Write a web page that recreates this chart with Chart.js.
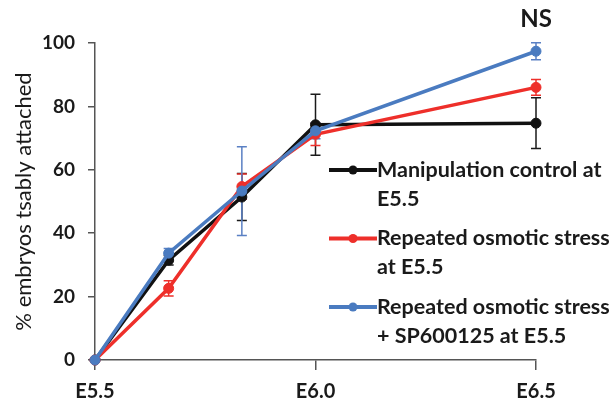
<!DOCTYPE html>
<html>
<head>
<meta charset="utf-8">
<script src="https://cdn.jsdelivr.net/npm/chart.js@4.4.1/dist/chart.umd.min.js"></script>
<style>
  html, body { margin: 0; padding: 0; background: #fff; }
  #wrap { width: 614px; height: 407px; }
</style>
</head>
<body>
<div id="wrap"><canvas id="attachChart" width="614" height="407"></canvas></div>
<script>
"use strict";

// sampling days (embryonic day)
const days = [5.5, 5.667, 5.833, 6.0, 6.5];
const xTickValues = [5.5, 6.0, 6.5];

// % embryos stably attached : mean and error bar
const controlVals = [0, 31.5, 51.4, 74.2, 74.7];
const controlErr  = [0, 1.5, 7.4, 9.6, 8.0];
const stressVals  = [0, 22.6, 54.7, 71.2, 86.0];
const stressErr   = [0, 2.4, 4.0, 3.5, 2.5];
const spVals      = [0, 33.7, 53.3, 72.3, 97.4];
const spErr       = [0, 1.5, 14.0, 2.5, 2.7];

const seriesNames = [
  ['Manipulation control at', 'E5.5'],
  ['Repeated osmotic stress', 'at E5.5'],
  ['Repeated osmotic stress', '+ SP600125 at E5.5']
];
const lineColors = ['#111111', '#ee2f2a', '#4a7bc0'];
const errColors  = ['#1a1a1a', '#ee2f2a', '#5a80c4'];
const errValues  = [controlErr, stressErr, spErr];

function toPoints(vals) {
  return vals.map((v, i) => ({ x: days[i], y: v }));
}

// error bars, drawn under the lines
const errorBars = {
  id: 'errorBars',
  beforeDatasetsDraw(chart) {
    const ctx = chart.ctx;
    const xs = chart.scales.x, ys = chart.scales.y;
    ctx.save();
    chart.data.datasets.forEach((ds, i) => {
      ctx.strokeStyle = errColors[i];
      ctx.lineWidth = 1.5;
      ds.data.forEach((p, j) => {
        const e = errValues[i][j];
        if (!e) return;
        const x = xs.getPixelForValue(p.x);
        const top = ys.getPixelForValue(p.y + e);
        const bot = ys.getPixelForValue(p.y - e);
        ctx.beginPath();
        ctx.moveTo(x, top); ctx.lineTo(x, bot);
        ctx.moveTo(x - 5, top); ctx.lineTo(x + 5, top);
        ctx.moveTo(x - 5, bot); ctx.lineTo(x + 5, bot);
        ctx.stroke();
      });
    });
    ctx.restore();
  }
};

// legend with two-line labels + "NS" note
const sideLegend = {
  id: 'sideLegend',
  afterDraw(chart) {
    const ctx = chart.ctx;
    const area = chart.chartArea;
    ctx.save();
    let y = 170;
    const x0 = area.right - 207;
    seriesNames.forEach((lines, i) => {
      ctx.strokeStyle = lineColors[i];
      ctx.lineWidth = 4;
      ctx.beginPath();
      ctx.moveTo(x0, y); ctx.lineTo(x0 + 48, y);
      ctx.stroke();
      ctx.fillStyle = lineColors[i];
      ctx.beginPath();
      ctx.arc(x0 + 24, y, 4.5, 0, Math.PI * 2);
      ctx.fill();
      ctx.fillStyle = '#1a1a1a';
      ctx.font = 'bold 21.5px Lato';
      ctx.textBaseline = 'middle';
      ctx.textAlign = 'left';
      lines.forEach((t, k) => ctx.fillText(t, x0 + 48, y + k * 29));
      y += 68.5;
    });
    ctx.font = 'bold 24px Lato';
    ctx.textAlign = 'center';
    ctx.fillText('NS', chart.scales.x.getPixelForValue(6.5), 19);
    ctx.restore();
  }
};

function makeSet(i, vals, order) {
  return {
    label: seriesNames[i].join(' '),
    data: toPoints(vals),
    borderColor: lineColors[i],
    backgroundColor: lineColors[i],
    borderWidth: 3.5,
    pointRadius: 5,
    pointBorderWidth: 1,
    tension: 0,
    clip: false,
    order: order
  };
}

const ctxEl = document.getElementById('attachChart');
new Chart(ctxEl, {
  type: 'line',
  data: {
    datasets: [
      makeSet(0, controlVals, 3),
      makeSet(1, stressVals, 2),
      makeSet(2, spVals, 1)
    ]
  },
  options: {
    responsive: false,
    animation: false,
    layout: { padding: { top: 43, right: 78, left: 0, bottom: 0 } },
    scales: {
      x: {
        type: 'linear',
        min: 5.5,
        max: 6.5,
        afterBuildTicks: (scale) => { scale.ticks = xTickValues.map(v => ({ value: v })); },
        afterFit: (scale) => { scale.height = 47; },
        grid: { drawOnChartArea: false, color: '#555', lineWidth: 1.5, tickLength: 10 },
        border: { color: '#555', width: 1.5 },
        ticks: {
          color: '#1a1a1a',
          font: { family: 'Lato', size: 20, weight: 'bold' },
          padding: 10,
          maxRotation: 0,
          callback: (v) => 'E' + Number(v).toFixed(1)
        }
      },
      y: {
        min: 0,
        max: 100,
        afterFit: (scale) => { scale.width = 95; },
        grid: { drawOnChartArea: false, color: '#555', lineWidth: 1.5, tickLength: 7 },
        border: { color: '#555', width: 1.5 },
        ticks: {
          stepSize: 20,
          color: '#1a1a1a',
          font: { family: 'Lato', size: 19, weight: 'bold' },
          padding: 13
        },
        title: {
          display: true,
          text: '% embryos tsably attached',
          color: '#1a1a1a',
          font: { family: 'Lato', size: 22 },
          padding: { top: 11, bottom: 0 }
        }
      }
    },
    plugins: {
      legend: { display: false },
      tooltip: { enabled: false }
    }
  },
  plugins: [errorBars, sideLegend]
});
</script>
</body>
</html>
